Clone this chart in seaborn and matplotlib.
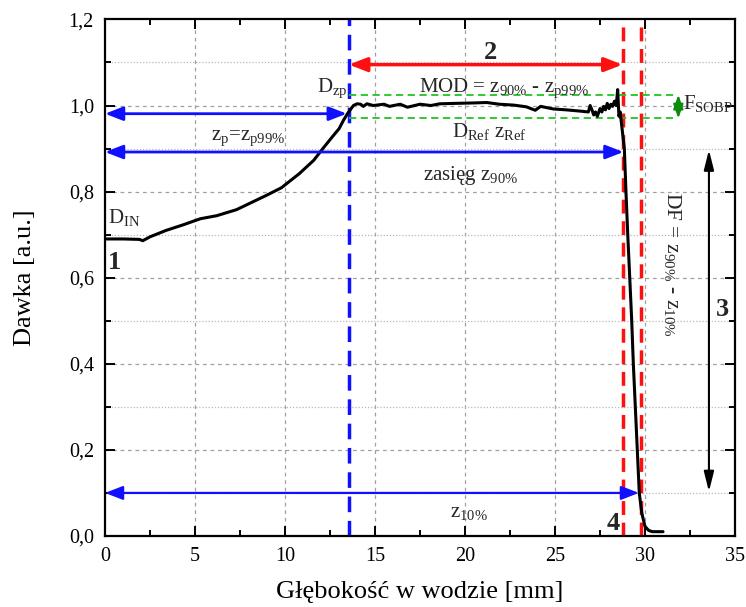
import numpy as np
import pandas as pd
import matplotlib
matplotlib.use("Agg")
import matplotlib.pyplot as plt
import seaborn as sns
from matplotlib.ticker import MultipleLocator, FuncFormatter

# Depth-dose profile (SOBP)
depth = [0.0, 1.0, 1.9, 2.1, 2.5, 3.4, 4.35, 5.3, 6.2, 7.3, 8.1, 9.0, 9.8,
         10.8, 11.6, 12.1, 12.7, 13.0, 13.25, 13.5, 13.8, 14.0, 14.2, 14.35,
         14.55, 14.9, 15.5, 15.8, 16.4, 16.8, 17.5, 18.1, 18.6, 19.5, 20.5,
         21.2, 21.9, 22.7, 23.4, 23.9, 24.2, 24.9, 25.6, 26.4, 26.85, 26.95,
         27.05, 27.15, 27.25, 27.35, 27.5, 27.6, 27.7, 27.8, 27.9, 28.0, 28.1,
         28.2, 28.3, 28.4, 28.48, 28.55, 28.62, 28.7, 28.85, 28.94, 29.04,
         29.15, 29.26, 29.35, 29.46, 29.57, 29.68, 29.82, 30.0, 30.2, 30.4, 31.0]
dose = [0.690, 0.690, 0.689, 0.686, 0.695, 0.710, 0.723, 0.737, 0.744, 0.758,
        0.774, 0.792, 0.809, 0.842, 0.873, 0.900, 0.931, 0.946, 0.966, 0.983,
        1.000, 1.004, 1.003, 0.998, 1.004, 1.000, 1.003, 0.998, 1.003, 0.996,
        1.003, 1.000, 1.004, 1.005, 1.006, 1.007, 1.003, 1.001, 0.997, 0.989,
        0.998, 0.992, 0.990, 0.987, 0.985, 1.000, 0.990, 0.978, 0.985, 0.975,
        0.993, 0.985, 0.998, 0.990, 1.005, 0.993, 1.003, 0.998, 1.010, 1.000,
        1.037, 0.975, 0.985, 0.955, 0.900, 0.800, 0.700, 0.600, 0.500, 0.400,
        0.300, 0.200, 0.100, 0.053, 0.022, 0.013, 0.010, 0.010]

# Characteristic depths and dose levels
z_p99 = 13.55          # proximal 99% depth
z_90 = 28.75           # distal 90% depth
z_10 = 29.75           # distal 10% depth
d_ref_lo, d_ref_hi = 0.970, 1.025
arrow_zp, arrow_z90, arrow_z10 = 0.981, 0.892, 0.100

df = pd.DataFrame({"depth": depth, "dose": dose})

sns.set_theme(style="ticks")
plt.rcParams["font.family"] = ["Liberation Serif", "DejaVu Serif"]
plt.rcParams["mathtext.fontset"] = "custom"
plt.rcParams["mathtext.rm"] = "Liberation Serif"
plt.rcParams["mathtext.it"] = "Liberation Serif:italic"
plt.rcParams["mathtext.bf"] = "Liberation Serif:bold"

fig = plt.figure(figsize=(7.46, 6.07), dpi=100)
ax = fig.add_axes([0.1408, 0.117, 0.8445, 0.851])

# grid: dashed at majors, dotted at minor y levels
for x in range(5, 35, 5):
    ax.axvline(x, color="#a0a0a0", lw=0.9, ls=(0, (3, 3)), zorder=0)
for y in np.arange(0.2, 1.2, 0.2):
    ax.axhline(y, color="#a0a0a0", lw=0.9, ls=(0, (3, 3)), zorder=0)
for y in np.arange(0.1, 1.2, 0.2):
    ax.axhline(y, color="#b8b8b8", lw=0.9, ls=(0, (1, 1.5)), zorder=0)

# reference lines
ax.axvline(z_p99, color="#1010ff", lw=2.5, ls=(0, (4.5, 2.5)), zorder=2)
ax.axvline(z_90, color="#ff1010", lw=2.5, ls=(0, (4, 2.2)), zorder=2)
ax.axvline(z_10, color="#ff1010", lw=2.5, ls=(0, (4, 2.2)), zorder=2)
for y in (d_ref_lo, d_ref_hi):
    ax.plot([z_p99, 31.7], [y, y], color="#22c322", lw=1.3,
            ls=(0, (4, 2.5)), zorder=2)

sns.lineplot(data=df, x="depth", y="dose", color="black", lw=2.2,
             ax=ax, zorder=4, sort=False)


def arrow(x0, y0, x1, y1, color, lw=2.0, hl=0.9, hw=0.35):
    ax.annotate("", xy=(x1, y1), xytext=(x0, y0),
                arrowprops=dict(arrowstyle=f"<|-|>,head_length={hl},head_width={hw}",
                                color=color, lw=lw, shrinkA=0, shrinkB=0),
                zorder=5)


arrow(z_p99, 1.095, z_90, 1.095, "#ff1010", lw=2.5)
arrow(0.0, arrow_zp, 13.43, arrow_zp, "#1010ff")
arrow(0.0, arrow_z90, 28.8, arrow_z90, "#1010ff")
arrow(0.0, arrow_z10, 29.66, arrow_z10, "#1010ff", lw=1.6)
arrow(31.85, d_ref_lo, 31.85, d_ref_hi, "#0c8c0c", lw=1.5, hl=0.7, hw=0.25)
arrow(33.55, 0.103, 33.55, 0.897, "black", lw=1.5, hl=1.0, hw=0.25)

fs = 15
ax.text(11.75, 1.031, r"D$_\mathrm{zp}$", fontsize=fs, va="baseline")
ax.text(17.45, 1.031, r"MOD = z$_\mathrm{90\%}$ - z$_\mathrm{p99\%}$",
        fontsize=fs, va="baseline")
ax.text(19.3, 0.928, r"D$_\mathrm{Ref}$ z$_\mathrm{Ref}$", fontsize=fs,
        va="baseline")
ax.text(5.9, 0.919, r"z$_\mathrm{p}$=z$_\mathrm{p99\%}$", fontsize=fs,
        va="baseline")
ax.text(20.3, 0.828, r"zasięg z$_\mathrm{90\%}$", fontsize=fs, va="baseline",
        ha="center")
ax.text(20.2, 0.045, r"z$_\mathrm{10\%}$", fontsize=fs, va="baseline",
        ha="center")
ax.text(0.17, 0.727, r"D$_\mathrm{IN}$", fontsize=fs, va="baseline")
ax.text(32.1, 0.991, r"F$_\mathrm{SOBP}$", fontsize=fs, va="baseline",
        clip_on=False)
ax.text(31.55, 0.63, r"DF = z$_\mathrm{90\%}$ - z$_\mathrm{10\%}$",
        fontsize=15.5, rotation=270, ha="center", va="center")

bold = dict(fontsize=19, fontweight="bold", ha="center", va="center")
ax.text(0.55, 0.635, "1", **bold)
ax.text(21.4, 1.124, "2", **bold)
ax.text(34.3, 0.525, "3", **bold)
ax.text(28.6, 0.003, "4", fontsize=19, fontweight="bold", ha="right",
        va="bottom")

ax.set_xlim(0, 35)
ax.set_ylim(0, 1.2)
ax.xaxis.set_major_locator(MultipleLocator(5))
ax.xaxis.set_minor_locator(MultipleLocator(2.5))
ax.yaxis.set_major_locator(MultipleLocator(0.2))
ax.yaxis.set_minor_locator(MultipleLocator(0.1))
ax.yaxis.set_major_formatter(FuncFormatter(lambda v, p: f"{v:.1f}".replace(".", ",")))
ax.tick_params(which="both", direction="in", top=True, right=True,
               color="black", width=1.4, labelsize=14.5, pad=8,
               labelcolor="black")
ax.tick_params(which="major", length=7)
ax.tick_params(which="minor", length=4)
for s in ax.spines.values():
    s.set_color("black")
    s.set_linewidth(1.6)

ax.set_xlabel("Głębokość w wodzie [mm]", fontsize=19, color="black")
ax.set_ylabel("Dawka [a.u.]", fontsize=19, color="black")
ax.xaxis.set_label_coords(0.5, -0.088)
ax.yaxis.set_label_coords(-0.11, 0.5)
ax.grid(False)
ax.set_facecolor("white")
fig.patch.set_facecolor("white")

fig.savefig("out.png", dpi=100)
